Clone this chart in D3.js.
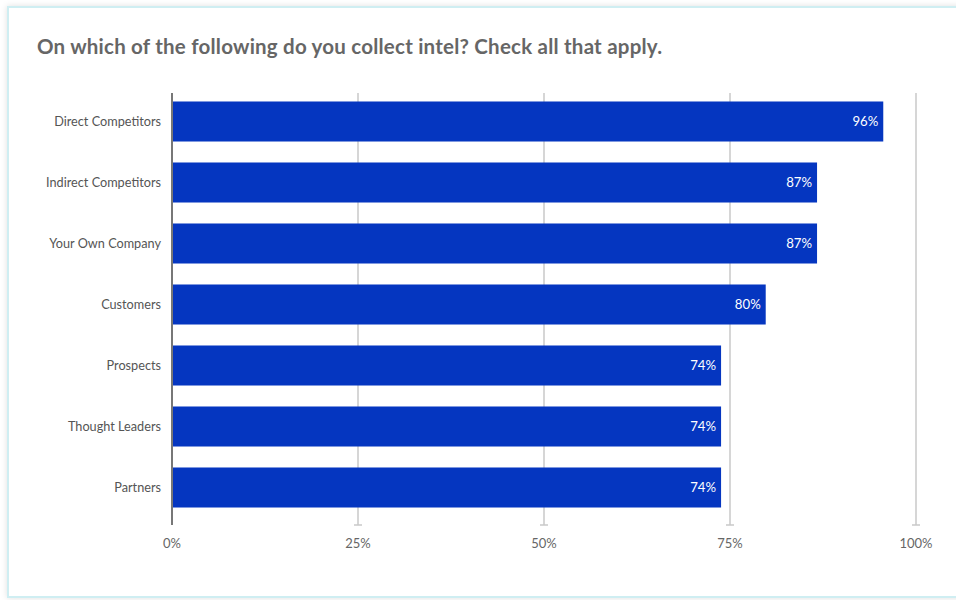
<!DOCTYPE html>
<html><head><meta charset="utf-8">
<script src="https://cdn.jsdelivr.net/npm/d3@7"></script>
<style>
html,body{margin:0;padding:0;background:#fff;}
svg{display:block;}
</style></head>
<body>
<svg id="chart" width="956" height="600"></svg>
<script>
const title = "On which of the following do you collect intel? Check all that apply.";
const categories = ["Direct Competitors","Indirect Competitors","Your Own Company","Customers","Prospects","Thought Leaders","Partners"];
const values = [95.6, 86.7, 86.7, 79.8, 73.8, 73.8, 73.8];
const valueLabels = ["96%","87%","87%","80%","74%","74%","74%"];
const tickValues = [0, 25, 50, 75, 100];
const tickLabels = ["0%","25%","50%","75%","100%"];

const svg = d3.select("#chart");
const defs = svg.append("defs");
const f = defs.append("filter").attr("id","sh").attr("x","-5%").attr("y","-5%").attr("width","110%").attr("height","110%");
f.append("feDropShadow").attr("dx",0).attr("dy",0).attr("stdDeviation",3).attr("flood-color","#000").attr("flood-opacity",0.12);

svg.append("rect").attr("x",8).attr("y",7).attr("width",970).attr("height",590)
  .attr("fill","#fff").attr("stroke","#cfeef2").attr("stroke-width",2).attr("filter","url(#sh)");

svg.append("text").attr("x",37).attr("y",54).text(title)
  .attr("font-family","Lato, 'Open Sans', sans-serif").attr("font-weight",700)
  .attr("font-size",20.5).attr("fill","#666")
  .attr("textLength",625).attr("lengthAdjust","spacing");

const x = d3.scaleLinear().domain([0,100]).range([172,916]);
const y = d3.scaleBand().domain(categories).range([91,518]).paddingInner(0.344).paddingOuter(0.172);

const gTop = 93, gBot = 525;
const grid = svg.append("g");
grid.selectAll("line.g").data(tickValues.slice(1)).join("line")
  .attr("x1",d=>x(d)).attr("x2",d=>x(d)).attr("y1",gTop).attr("y2",gBot)
  .attr("stroke","#c8c8c8").attr("stroke-width",1.5);
grid.selectAll("line.c").data(tickValues.slice(1)).join("line")
  .attr("x1",d=>x(d)-4).attr("x2",d=>x(d)+4).attr("y1",gBot).attr("y2",gBot)
  .attr("stroke","#c8c8c8").attr("stroke-width",1.5);

svg.append("g").selectAll("rect").data(categories).join("rect")
  .attr("x",x(0)).attr("y",d=>y(d)).attr("width",(d,i)=>x(values[i])-x(0)).attr("height",y.bandwidth())
  .attr("fill","#0536c0");

svg.append("line").attr("x1",x(0)).attr("x2",x(0)).attr("y1",gTop).attr("y2",gBot)
  .attr("stroke","#777").attr("stroke-width",2);

svg.append("g").selectAll("text").data(categories).join("text")
  .attr("x",161).attr("y",d=>y(d)+y.bandwidth()/2).attr("dy","0.35em")
  .attr("text-anchor","end").attr("font-family","Lato, sans-serif").attr("font-size",12.7)
  .attr("fill","#555").text(d=>d);

svg.append("g").selectAll("text").data(categories).join("text")
  .attr("x",(d,i)=>x(values[i])-5).attr("y",d=>y(d)+y.bandwidth()/2).attr("dy","0.35em")
  .attr("text-anchor","end").attr("font-family","Lato, sans-serif").attr("font-size",13.2)
  .attr("fill","#fff").text((d,i)=>valueLabels[i]);

svg.append("g").selectAll("text").data(tickValues).join("text")
  .attr("x",d=>x(d)).attr("y",548).attr("text-anchor","middle")
  .attr("font-family","Lato, sans-serif").attr("font-size",13).attr("fill","#666")
  .text((d,i)=>tickLabels[i]);
</script>
</body></html>
